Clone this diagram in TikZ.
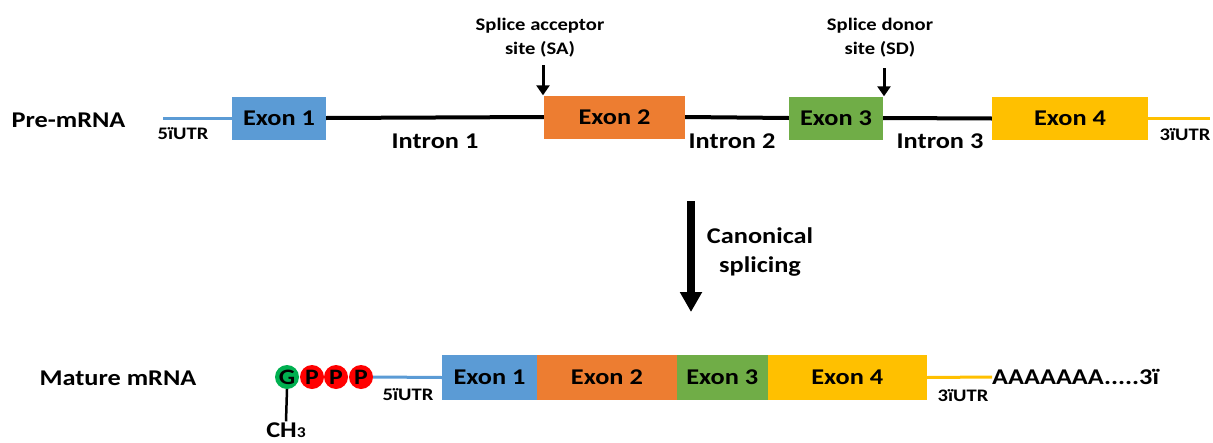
\documentclass[tikz,border=0pt]{standalone}
\usepackage{fontspec}
\setmainfont{Carlito}[FakeStretch=1.17]
\usetikzlibrary{arrows.meta,positioning}
\definecolor{exazul}{RGB}{91,155,213}
\definecolor{exnaranja}{RGB}{237,125,49}
\definecolor{exverde}{RGB}{112,173,71}
\definecolor{exoro}{RGB}{255,192,0}
\definecolor{capverde}{RGB}{0,176,80}
\definecolor{caprojo}{RGB}{255,0,0}
\tikzset{
  exon/.style={rectangle, inner sep=0pt, minimum height=43pt, font=\fontsize{22.5}{24}\selectfont\bfseries},
  utr/.style={line width=3pt},
  intron/.style={line width=4pt, black},
  rotulo/.style={font=\fontsize{22.5}{24}\selectfont\bfseries},
  chico/.style={font=\fontsize{17.6}{24}\selectfont\bfseries, align=center},
  marca/.style={-{Triangle[width=13pt,length=10pt]}, line width=3pt},
  grande/.style={-{Triangle[width=21pt,length=20pt]}, line width=8pt},
  bola/.style={circle, inner sep=0pt, minimum size=24pt, font=\fontsize{22}{24}\selectfont\bfseries},
}
\begin{document}
\begin{tikzpicture}[x=1pt, y=-1pt]
  \useasboundingbox (0,0) rectangle (1213,442);
  % pre-mRNA
  \node[rotulo, anchor=west] (pre) at (8,120) {Pre-mRNA};
  \coordinate (u5a) at (163,118);
  \node[exon, fill=exazul, minimum width=94pt] (e1) at (279,118) {Exon 1};
  \node[exon, fill=exnaranja, minimum width=141pt] (e2) at (614.5,117) {Exon 2};
  \node[exon, fill=exverde, minimum width=94pt] (e3) at (836,118) {Exon 3};
  \node[exon, fill=exoro, minimum width=156pt] (e4) at (1070,118.5) {Exon 4};
  \coordinate (u3a) at (1210,118.5);
  \draw[utr, exazul] (u5a) -- (e1.west);
  \draw[intron] (e1.east) -- (e2.west);
  \draw[intron] (e2.east) -- (e3.west);
  \draw[intron] (e3.east) -- (e4.west);
  \draw[utr, exoro] (e4.east) -- (u3a);
  \node[chico] (l5a) at (183,134) {5ïUTR};
  \node[chico] (l3a) at (1185,135) {3ïUTR};
  \node[rotulo] (i1) at (435,141) {Intron 1};
  \node[rotulo] (i2) at (732,141) {Intron 2};
  \node[rotulo] (i3) at (940,141) {Intron 3};
  % sitios
  \node[chico] (sa) at (540,38) {Splice acceptor\\site (SA)};
  \node[chico] (sd) at (880,38) {Splice donor\\site (SD)};
  \coordinate (saa) at (543,65);
  \coordinate (sda) at (884,68);
  \draw[marca] (saa) -- (saa |- e2.north);
  \draw[marca] (sda) -- (sda |- e3.north);
  % splicing
  \coordinate (ca) at (691,201);
  \coordinate (cb) at (691,312);
  \draw[grande] (ca) -- (cb);
  \node[rotulo, align=center, font=\fontsize{22.5}{29}\selectfont\bfseries] (can) at (760,252) {Canonical\\splicing};
  % mature mRNA
  \node[rotulo, anchor=west] (mat) at (36,378) {Mature mRNA};
  \node[bola, fill=capverde] (g) at (287,377) {G};
  \node[bola, fill=caprojo] (p1) at (312,377) {P};
  \node[bola, fill=caprojo] (p2) at (336,377) {P};
  \node[bola, fill=caprojo] (p3) at (361,377) {P};
  \node[rotulo, inner sep=1pt] (ch) at (286,430) {CH{\fontsize{15}{15}\selectfont 3}};
  \draw[line width=2.5pt] (g.south) -- (ch.north);
  \node[exon, fill=exazul, minimum width=95pt, minimum height=45pt] (m1) at (489.5,377.5) {Exon 1};
  \node[exon, fill=exnaranja, minimum width=140pt, minimum height=45pt, right=-0.5pt of m1] (m2) {Exon 2};
  \node[exon, fill=exverde, minimum width=91pt, minimum height=45pt, right=-0.5pt of m2] (m3) {Exon 3};
  \node[exon, fill=exoro, minimum width=159pt, minimum height=45pt, right=-0.5pt of m3] (m4) {Exon 4};
  \coordinate (u3b) at (992,377);
  \draw[utr, exazul] (p3.east) -- (m1.west);
  \draw[utr, exoro] (m4.east) -- (u3b);
  \node[chico] (l5b) at (408,395) {5ïUTR};
  \node[chico] (l3b) at (963,396) {3ïUTR};
  \node[rotulo, anchor=west, inner sep=0pt] (poly) at (u3b) {AAAAAAA.....3ï};
\end{tikzpicture}
\end{document}
